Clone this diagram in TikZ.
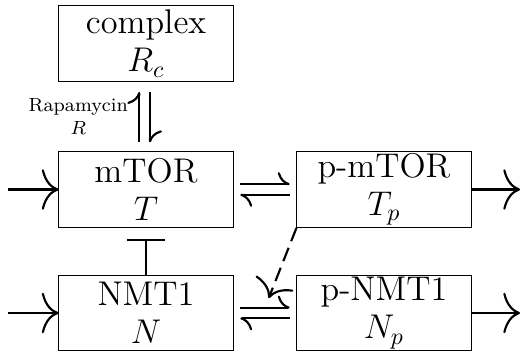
\documentclass[tikz,border=0pt]{standalone}
\usepackage{amsmath}
\usetikzlibrary{arrows.meta,positioning}

\begin{document}
\begin{tikzpicture}[font=\Large,
	box/.style={draw,align=center,minimum width=2.57cm,minimum height=1.12cm,inner sep=0pt},
	arr/.style={-{Computer Modern Rightarrow[length=7pt,width=17pt]},line width=0.9pt},
	harp/.style={-{Computer Modern Rightarrow[harpoon,length=5pt,width=10pt]},line width=0.9pt,shorten >=0.1cm,shorten <=0.1cm}]
	\useasboundingbox (-2.155,-2.398) rectangle (5.55,2.797);
	\node[box] (T) at (0,0){mTOR\\[-2pt]$T$};
	\node[box] (Rc) at (0,2.155){complex\\[-2pt]$R_c$};
	\node[box] (Tp) at (3.513,0){p-mTOR\\[-2pt]$T_p$};
	\node[box] (N) at (0,-1.823){NMT1\\[-2pt]$N$};
	\node[box] (Np) at (3.513,-1.823){p-NMT1\\[-2pt]$N_p$};
	
	\coordinate (inT) at (-2.04,0);
	\coordinate (inN) at (-2.04,-1.823);
	\coordinate (outT) at (5.52,0);
	\coordinate (outN) at (5.52,-1.823);
	\draw[arr](inT)--(T.west);
	\draw[arr](inN)--(N.west);
	\draw[arr](Tp.east)--(outT);
	\draw[arr](Np.east)--(outN);
	
	\draw[harp,shorten >=0.15cm,shorten <=0.13cm]([xshift=-0.1cm]T.north)--([xshift=-0.1cm]Rc.south)
		node[midway,left,font=\footnotesize,align=center,xshift=-1pt]{Rapamycin\\$R$};
	\draw[harp,shorten >=0.13cm,shorten <=0.15cm]([xshift=0.06cm]Rc.south)--([xshift=0.06cm]T.north);
	\draw[harp]([yshift=0.08cm]T.east)--([yshift=0.08cm]Tp.west);
	\draw[harp]([yshift=-0.08cm]Tp.west)--([yshift=-0.08cm]T.east);
	\draw[harp]([yshift=0.08cm]N.east)--([yshift=0.08cm]Np.west) coordinate[midway](mid);
	\draw[harp]([yshift=-0.08cm]Np.west)--([yshift=-0.08cm]N.east);
	
	\draw[-{Bar[width=0.55cm]},line width=0.9pt,shorten >=0.16cm](N.north)--(T.south);
	\draw[arr,dashed,dash pattern=on 6pt off 3pt,shorten >=0.15cm](Tp.south west)--(mid);
\end{tikzpicture}
\end{document}
